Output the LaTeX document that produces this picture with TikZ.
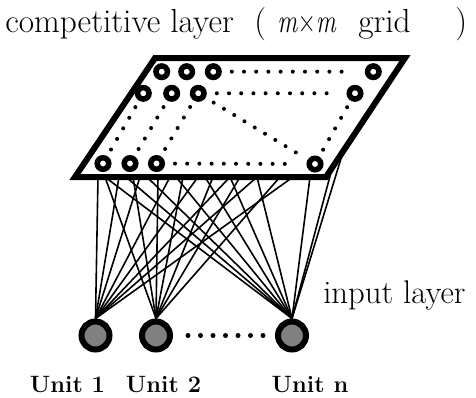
\documentclass[tikz,border=0pt]{standalone}
\usepackage{fontspec}
\usepackage{graphicx}
\usetikzlibrary{calc, backgrounds}
\newdimen\px
\px=0.025cm

\begin{document}
\begin{tikzpicture}[x=1\px, y=-1\px,
  ring/.style={circle, draw, line width=5.5\px, fill=white, minimum size=11.5\px, inner sep=0pt},
  unit/.style={circle, draw, line width=6\px, fill=gray, minimum size=28\px, inner sep=0pt},
  gridframe/.style={draw, line width=6\px, line join=miter},
  wire/.style={draw, line width=1.6\px},
  dotrow/.style={draw, line width=4\px, line cap=round, dash pattern=on 0pt off 12.2\px, shorten <=10\px, shorten >=19\px},
  dotcol/.style={draw, line width=4\px, line cap=round, dash pattern=on 0pt off 12.2\px, shorten <=7.5\px, shorten >=7.5\px},
  dotdiag/.style={draw, line width=4\px, line cap=round, dash pattern=on 0pt off 12\px, shorten <=9.5\px, shorten >=13\px},
  dotunit/.style={draw, line width=5\px, line cap=round, dash pattern=on 0pt off 12.5\px, shorten <=15\px, shorten >=12\px},
  txt/.style={anchor=base west, inner sep=0pt, font=\fontsize{23.7}{28}\selectfont},
  unitlabel/.style={anchor=base, inner sep=0pt, font=\fontsize{16.8}{20}\selectfont\bfseries}
]
\useasboundingbox (0,0) rectangle (476,397);

% Title
\node[txt] (ttl) at (5,32) {competitive layer};
\node[txt] (lpar) at (254,32) {(};
\node[txt] (mxm) at (277,32) {\scalebox{0.75}[1]{\textit{m}×\textit{m}}};
\node[txt] (grd) at (358,32) {grid};
\node[txt] (rpar) at (455,32) {)};

% Competitive layer frame
\coordinate (lyTL) at (155,58);
\coordinate (lyTR) at (405,58);
\coordinate (lyBR) at (326,177);
\coordinate (lyBL) at (75,177);
\draw[gridframe] (lyTL) -- (lyTR) -- (lyBR) -- (lyBL) -- cycle;

% Grid units
\node[ring] (c11) at (161.7,71.7) {};
\node[ring] (c12) at (186.7,71.7) {};
\node[ring] (c13) at (213.3,71.7) {};
\node[ring] (c1m) at (373.3,71.7) {};
\node[ring] (c21) at (143.3,93.3) {};
\node[ring] (c22) at (171.7,93.3) {};
\node[ring] (c23) at (198.3,93.3) {};
\node[ring] (c2m) at (355,93.3) {};
\node[ring] (c31) at (103,163.5) {};
\node[ring] (c32) at (130,163.5) {};
\node[ring] (c33) at (156.5,163.5) {};
\node[ring] (c3m) at (315,164) {};

% Dotted rows and columns
\draw[dotrow] (c13) -- (c1m);
\draw[dotrow] (c23) -- (c2m);
\draw[dotrow] (c33) -- (c3m);
\draw[dotcol] (c21) -- (c31);
\draw[dotcol] (c22) -- (c32);
\draw[dotcol] (c23) -- (c33);
\draw[dotcol] (c2m) -- (c3m);
\draw[dotdiag] (c23) -- (c3m);

% Input units
\node[unit] (u1) at (95.5,335.5) {};
\node[unit] (u2) at (156,335.5) {};
\node[unit] (un) at (292,335.5) {};
\draw[dotunit] (u2) -- (un);

% Connections
\begin{scope}[on background layer]
\foreach \x in {98,119,140,170,198,230,257,293}
  \draw[wire] (u1.north) -- (\x,0 |- lyBL);
\foreach \x in {105,133,158,183,213,240,280}
  \draw[wire] (u2.north) -- (\x,0 |- lyBL);
\foreach \x in {105,126,147,176,205,230,257,310}
  \draw[wire] (un.north) -- (\x,0 |- lyBL);
\foreach \t in {0.08,0.22}
  \draw[wire] (un.north) -- ($(lyBR)!\t!(lyTR)$);
\end{scope}

% Labels
\node[unitlabel] (lab1) at (67.5,392) {Unit 1};
\node[unitlabel] (lab2) at (163.5,392) {Unit 2};
\node[unitlabel] (labn) at (310,392) {Unit n};
\node[txt, font=\fontsize{23.3}{28}\selectfont] (inlab) at (323,303) {input layer};

\end{tikzpicture}
\end{document}
